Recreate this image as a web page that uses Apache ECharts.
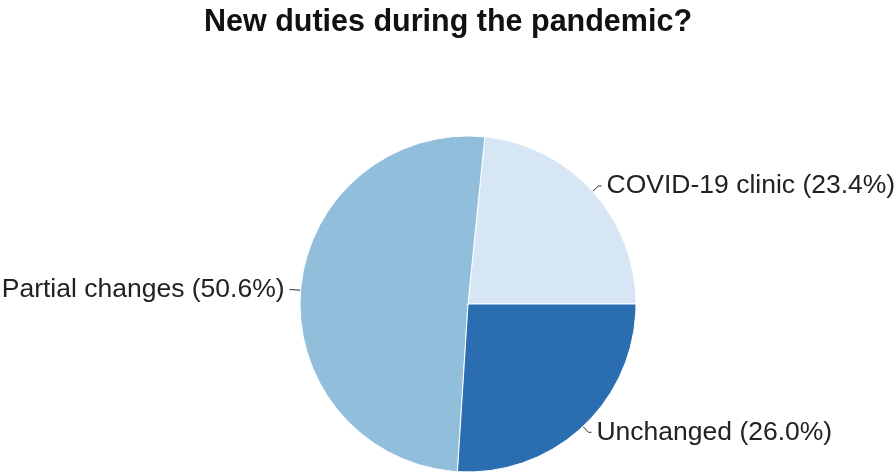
<!DOCTYPE html>
<html>
<head>
<meta charset="utf-8">
<script src="https://cdn.jsdelivr.net/npm/echarts@6/dist/echarts.min.js"></script>
<style>
  html, body { margin: 0; padding: 0; background: #fff; }
  #chart { width: 896px; height: 475px; }
</style>
</head>
<body>
<div id="chart"></div>
<script>
const categories = ['COVID-19 clinic', 'Partial changes', 'Unchanged']
const shares = [23.4, 50.6, 26.0]
const colors = ['#d6e6f4', '#91bfdb', '#2b6db1']

const chart = echarts.init(document.getElementById('chart'))

chart.setOption({
  backgroundColor: '#fff',
  animation: false,
  title: {
    text: 'New duties during the pandemic?',
    left: 'center',
    top: 2,
    textStyle: { fontFamily: 'Liberation Sans, Arial', fontSize: 30.5, fontWeight: 'bold', color: '#111' }
  },
  series: [{
    type: 'pie',
    center: [468, 304],
    radius: 168,
    startAngle: 0,
    clockwise: false,
    data: categories.map((name, i) => ({
      name,
      value: shares[i],
      itemStyle: { color: colors[i] }
    })),
    itemStyle: { borderColor: '#fff', borderWidth: 1 },
    label: {
      formatter: (p) => `${p.name} (${p.value.toFixed(1)}%)`,
      fontFamily: 'Liberation Sans, Arial',
      fontSize: 26.5,
      color: '#222',
      overflow: 'none'
    },
    labelLine: {
      length: 8,
      length2: 3,
      lineStyle: { color: '#333', width: 1 }
    }
  }]
})
</script>
</body>
</html>
